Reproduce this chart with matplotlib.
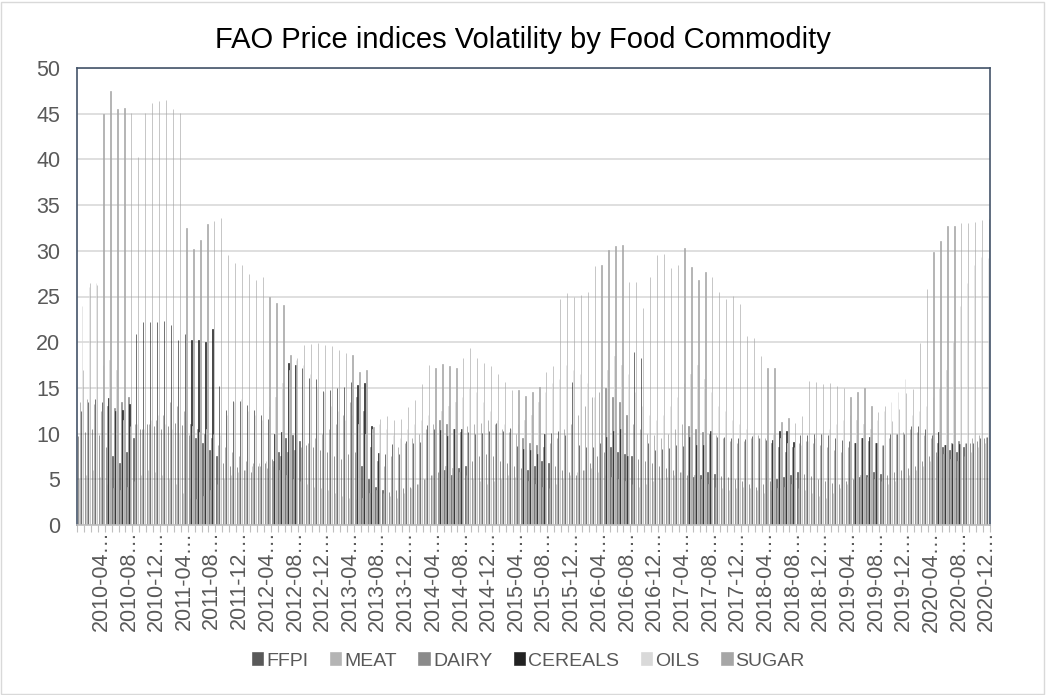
import numpy as np
import matplotlib.pyplot as plt
from matplotlib.patches import Rectangle

plt.rcParams['font.family'] = ['Liberation Sans', 'DejaVu Sans']

# monthly categories 2010-01 .. 2020-12
months = [f'{y}-{m:02d}' for y in range(2010, 2021) for m in range(1, 13)]

ffpi = [9.7, 10.2, 10.5, 9.8, 8.5, 7.5, 6.8, 8.0, 9.5, 10.5, 11.0, 10.8,
        10.5, 10.8, 11.2, 10.9, 9.8, 9.5, 9.0, 8.2, 7.5, 6.8, 6.5, 6.3,
        6.0, 5.8, 6.5, 6.8, 7.2, 8.0, 9.5, 9.8, 9.2, 8.8, 8.5, 8.2,
        8.0, 7.5, 7.2, 7.8, 8.0, 6.5, 5.0, 4.2, 3.8, 3.6, 3.8, 4.0,
        4.2, 4.5, 5.0, 5.5, 5.8, 6.0, 5.5, 6.2, 6.5, 7.0, 7.5, 7.8,
        7.5, 7.0, 6.8, 6.5, 6.2, 6.0, 6.5, 7.0, 6.8, 6.5, 6.0, 5.8,
        5.5, 6.0, 6.8, 7.5, 8.0, 8.5, 8.0, 7.8, 7.5, 7.2, 7.0, 6.8,
        6.5, 6.2, 6.0, 5.8, 5.5, 5.2, 5.5, 5.8, 5.6, 5.4, 5.2, 5.0,
        4.8, 4.5, 4.2, 4.5, 4.8, 5.0, 5.2, 5.5, 5.8, 5.6, 5.4, 5.0,
        4.8, 4.6, 4.5, 4.8, 5.0, 5.2, 5.5, 5.8, 5.6, 5.5, 5.8, 6.0,
        6.2, 6.5, 7.0, 7.5, 8.0, 8.5, 8.2, 8.0, 8.5, 9.0, 9.2, 9.5]

meat = [5.0, 5.5, 6.0, 5.2, 4.5, 4.0, 3.8, 4.2, 4.8, 5.5, 6.0, 5.8,
        5.5, 5.0, 4.5, 3.5, 3.0, 2.8, 3.2, 3.8, 4.5, 5.0, 5.5, 5.8,
        6.0, 6.5, 6.8, 7.0, 6.5, 6.0, 5.5, 5.0, 4.8, 4.5, 4.2, 4.0,
        3.8, 3.5, 3.2, 3.0, 2.8, 3.0, 3.5, 3.8, 3.5, 3.2, 3.0, 3.5,
        4.0, 4.5, 5.0, 5.5, 6.0, 6.5, 6.2, 5.8, 5.5, 5.0, 4.8, 4.5,
        4.8, 5.0, 5.5, 5.2, 5.0, 4.8, 4.5, 4.2, 4.0, 4.5, 5.0, 5.5,
        5.8, 6.0, 6.2, 5.8, 5.5, 5.2, 5.0, 4.8, 4.5, 4.2, 4.5, 4.8,
        5.0, 5.2, 5.5, 5.8, 6.0, 5.5, 5.0, 4.5, 4.2, 4.0, 3.8, 4.0,
        4.2, 4.0, 3.8, 3.5, 3.8, 4.0, 4.2, 4.5, 4.0, 3.8, 3.5, 3.2,
        3.0, 3.5, 4.0, 4.5, 5.0, 5.5, 5.2, 5.0, 4.8, 4.5, 4.8, 5.0,
        5.5, 6.0, 6.5, 7.0, 7.5, 7.8, 7.2, 7.0, 7.5, 8.0, 8.5, 9.0]

dairy = [13.5, 13.8, 13.2, 12.5, 13.0, 12.8, 13.5, 14.0, 11.0, 10.5, 11.0, 11.5,
         12.0, 13.5, 13.0, 12.5, 11.0, 10.5, 10.0, 9.5, 8.8, 8.5, 8.0, 7.5,
         7.0, 6.8, 6.5, 6.2, 7.0, 7.5, 8.0, 8.2, 8.5, 9.0, 9.5, 10.0,
         10.5, 11.0, 12.0, 13.5, 14.0, 12.5, 8.5, 7.0, 6.5, 7.5, 8.5, 9.0,
         9.5, 10.0, 10.5, 11.0, 11.5, 11.0, 10.5, 10.2, 10.8, 11.0, 11.2, 11.5,
         11.0, 10.5, 10.2, 10.0, 9.5, 9.0, 8.8, 8.5, 9.0, 9.5, 10.5, 11.0,
         12.0, 13.0, 14.0, 14.5, 15.0, 14.0, 13.5, 12.0, 11.0, 10.5, 10.0, 9.8,
         9.5, 10.0, 10.5, 11.0, 10.8, 10.5, 10.2, 10.0, 9.8, 9.5, 9.2, 9.0,
         9.2, 9.5, 9.8, 9.5, 9.0, 8.5, 8.0, 8.5, 9.0, 9.2, 9.0, 8.8,
         8.5, 8.2, 8.0, 8.5, 9.0, 9.5, 9.2, 9.0, 8.8, 9.5, 10.0, 10.2,
         10.5, 10.2, 9.8, 9.5, 9.0, 8.8, 9.0, 9.2, 9.0, 9.5, 9.8, 9.6]

cereals = [12.5, 13.5, 13.8, 13.5, 13.9, 12.5, 12.6, 13.2, 20.9, 22.2, 22.2, 22.2,
           22.3, 21.9, 20.2, 20.9, 20.2, 20.2, 20.0, 21.4, 15.2, 12.6, 13.6, 13.6,
           13.1, 12.6, 12.0, 11.6, 10.0, 10.2, 17.7, 17.5, 17.2, 16.1, 16.0, 14.7,
           14.8, 15.0, 15.1, 15.6, 15.3, 15.5, 10.8, 7.9, 7.8, 8.9, 7.8, 9.2,
           9.0, 9.1, 10.9, 10.5, 10.4, 9.7, 10.5, 10.5, 10.2, 10.0, 10.1, 10.3,
           11.2, 10.3, 10.6, 8.6, 8.3, 8.2, 7.8, 10.0, 10.1, 10.3, 9.8, 15.7,
           8.8, 8.5, 8.5, 9.0, 9.6, 10.3, 10.5, 7.6, 18.9, 18.3, 9.0, 8.2,
           8.3, 8.4, 8.7, 8.6, 9.6, 8.7, 8.8, 10.3, 9.6, 9.6, 9.5, 9.5,
           9.4, 9.7, 9.5, 9.3, 9.3, 10.3, 10.3, 9.1, 9.9, 9.8, 10.0, 10.0,
           9.9, 9.5, 9.3, 9.2, 9.0, 9.5, 9.6, 9.0, 8.7, 10.0, 10.0, 10.0,
           10.8, 10.8, 10.5, 9.9, 10.2, 8.8, 8.9, 8.9, 9.0, 9.0, 9.5, 9.6]

oils = [24.0, 26.0, 26.5, 17.5, 18.0, 17.0, 11.5, 10.8, 11.0, 10.5, 11.5, 12.0,
        11.0, 10.5, 10.0, 11.5, 10.8, 10.2, 10.5, 10.0, 9.8, 12.0, 13.5, 13.8,
        12.5, 12.0, 11.5, 13.0, 14.0, 15.5, 17.0, 18.0, 17.5, 16.5, 15.0, 14.5,
        13.0, 12.5, 11.5, 12.0, 11.0, 10.0, 10.5, 11.0, 10.5, 9.8, 9.5, 10.5,
        11.0, 11.5, 12.0, 11.5, 12.5, 13.0, 13.5, 14.0, 15.0, 14.5, 13.5, 12.5,
        11.5, 11.0, 10.5, 11.0, 11.5, 12.0, 13.5, 14.5, 15.5, 16.0, 17.5, 17.0,
        16.5, 15.5, 14.0, 16.0, 17.0, 18.5, 17.5, 16.5, 14.5, 13.0, 12.0, 11.5,
        12.0, 13.0, 14.0, 15.5, 16.5, 17.5, 16.0, 14.5, 13.0, 12.5, 11.5, 11.0,
        10.5, 10.0, 9.5, 9.8, 10.0, 9.5, 9.0, 8.5, 8.8, 9.2, 9.5, 10.0,
        10.5, 11.0, 11.5, 12.0, 11.5, 11.0, 10.5, 11.5, 12.5, 13.5, 14.5, 16.0,
        12.0, 12.5, 13.0, 14.0, 15.0, 17.0, 20.0, 24.0, 26.5, 28.5, 29.3, 29.2]

sugar = [17.0, 26.5, 26.3, 45.0, 47.5, 45.5, 45.6, 45.1, 40.3, 45.1, 46.2, 46.4,
         46.5, 45.5, 45.1, 32.5, 30.2, 31.2, 32.9, 33.3, 33.6, 29.5, 28.7, 28.5,
         27.5, 26.8, 27.1, 24.9, 24.3, 24.1, 18.6, 18.3, 19.7, 19.8, 19.9, 19.7,
         19.6, 19.2, 18.8, 18.6, 16.7, 17.0, 10.7, 11.6, 11.9, 11.5, 11.6, 12.9,
         13.7, 15.4, 17.5, 17.2, 17.6, 17.4, 17.2, 18.3, 19.4, 18.3, 17.7, 17.4,
         16.5, 15.6, 14.8, 14.8, 14.1, 14.5, 15.1, 16.7, 17.4, 24.7, 25.4, 24.9,
         25.2, 25.5, 28.3, 28.4, 30.1, 30.5, 30.6, 26.6, 26.6, 23.7, 27.1, 29.5,
         29.6, 28.1, 28.4, 30.3, 28.2, 26.8, 27.7, 27.1, 25.5, 24.7, 25.1, 24.2,
         20.7, 20.5, 18.5, 17.2, 17.2, 11.3, 11.7, 11.2, 11.9, 15.8, 15.6, 15.4,
         15.5, 15.2, 15.0, 14.0, 14.5, 15.0, 13.0, 12.4, 13.0, 11.4, 12.7, 14.4,
         14.9, 19.9, 25.8, 29.9, 31.1, 32.7, 32.7, 33.0, 33.0, 33.2, 33.4, 33.5]

series = ['FFPI', 'MEAT', 'DAIRY', 'CEREALS', 'OILS', 'SUGAR']
values = [ffpi, meat, dairy, cereals, oils, sugar]
colors = ['#595959', '#b4b4b4', '#8a8a8a', '#222222', '#d9d9d9', '#a6a6a6']

W, H = 1046, 695
fig = plt.figure(figsize=(W / 100, H / 100), dpi=100)
fig.patches.append(Rectangle((1 / W, 1 / H), 1 - 3 / W, 1 - 3 / H, transform=fig.transFigure,
                             fill=False, edgecolor='#d9d9d9', linewidth=1))
ax = fig.add_axes([77 / W, (H - 525) / H, (990 - 77) / W, (525 - 68) / H])

n = len(months)
x = np.arange(n)
group = 0.84
bw = group / len(series)
for k, (name, vals, c) in enumerate(zip(series, values, colors)):
    # thin bars, edge keeps each one at least a pixel wide
    ax.bar(x - group / 2 + (k + 0.5) * bw, vals, width=bw * 0.3, color=c, edgecolor=c,
           linewidth=0.45, label=name, zorder=2)

ax.set_xlim(-0.5, n - 0.5)
ax.set_ylim(0, 50)
ax.set_yticks(range(0, 51, 5))
ax.yaxis.grid(True, color='#d9d9d9', linewidth=1.2, zorder=0)
ax.set_axisbelow(True)
ax.tick_params(axis='y', length=0, labelsize=15.5, labelcolor='#595959', pad=12)

lab_idx = list(range(3, n, 4))
ax.set_xticks(lab_idx)
ax.set_xticklabels([months[i] + '\u2026' for i in lab_idx], rotation=90, fontsize=15.5, color='#595959')
ax.set_xticks(np.arange(-0.5, n, 1), minor=True)
ax.tick_params(axis='x', which='major', length=0, pad=4)
ax.tick_params(axis='x', which='minor', length=5, color='#bfbfbf', width=0.8)

for s in ['left', 'top', 'right']:
    ax.spines[s].set_color('#44546a')
    ax.spines[s].set_linewidth(1.2)
ax.spines['bottom'].set_color('#bfbfbf')
ax.spines['bottom'].set_linewidth(1.2)

fig.text(0.5, (H - 40) / H, 'FAO Price indices Volatility by Food Commodity', ha='center', va='center',
         fontsize=21, color='#000000')

fig.legend(loc='center', bbox_to_anchor=(0.505, (H - 661) / H), ncol=6, frameon=False, fontsize=14,
           handlelength=0.6, handleheight=0.6, handletextpad=0.15, columnspacing=1.1,
           labelcolor='#595959')

fig.savefig('out.png', dpi=100)
